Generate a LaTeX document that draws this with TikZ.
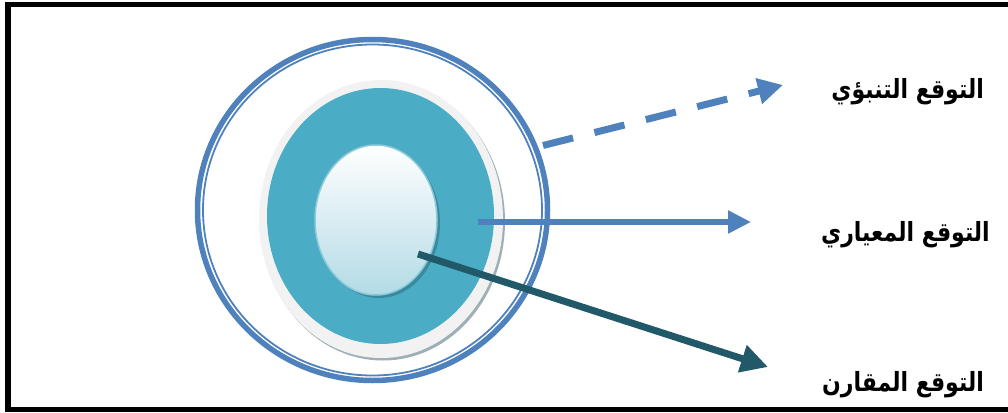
\documentclass[tikz,border=0pt]{standalone}
\usepackage{fontspec}
\newfontfamily\arabicfont[Script=Arabic]{DejaVu Sans Bold}
\TeXXeTstate=1
\usetikzlibrary{shapes.geometric,arrows.meta}
\definecolor{ringblue}{HTML}{4F81BD}
\definecolor{teal}{HTML}{4BACC6}
\definecolor{darkteal}{HTML}{215968}
\definecolor{lightgray}{HTML}{F2F2F2}
\definecolor{shadowgray}{HTML}{9DB0B5}
\definecolor{innerbot}{HTML}{B3DBE6}
\definecolor{innerrim}{HTML}{8CCAD9}
\definecolor{innershadow}{HTML}{3A8A9E}
\newcommand{\arlabel}[1]{\scalebox{1}[1.2]{\beginR #1\endR}}
\begin{document}
\begin{tikzpicture}[x=1pt,y=-1pt,
  ell/.style={ellipse,inner sep=0pt,outer sep=0pt},
  lbl/.style={font=\arabicfont\fontsize{22}{26}\selectfont,anchor=east,inner sep=0pt}]
\useasboundingbox (0,0) rectangle (1008,412);
% frame
\draw[line width=5.5pt] (1012,4.5) -- (8,4.5) -- (8,409.5) -- (1012,409.5);
% outer rings
\node[ell,draw=ringblue,line width=5.5pt,minimum width=350pt,minimum height=341pt] (outer) at (372.5,210) {};
\node[ell,draw=ringblue,line width=1.8pt,minimum width=339pt,minimum height=331pt] (outerthin) at (372.5,210) {};
% gray ring with shadow
\node[ell,fill=shadowgray,minimum width=244pt,minimum height=278pt] (grayshadow) at (383,221.5) {};
\node[ell,fill=lightgray,minimum width=244pt,minimum height=278pt] (gray) at (381,219) {};
% teal ring
\node[ell,fill=teal,minimum width=227pt,minimum height=256pt] (tealring) at (380.5,216) {};
% inner core
\node[ell,fill=innershadow,minimum width=122pt,minimum height=150pt] (coreshadow) at (379,223) {};
\node[ell,top color=white,bottom color=innerbot,draw=innerrim,line width=1.5pt,minimum width=122pt,minimum height=150pt] (core) at (376,220) {};
% labels
\node[lbl] (l1) at (984,92) {\arlabel{التوقع التنبؤي}};
\node[lbl] (l2) at (990,235) {\arlabel{التوقع المعياري}};
\node[lbl] (l3) at (984,385) {\arlabel{التوقع المقارن}};
% arrow start/end points
\coordinate (s1) at (543,145.5);
\coordinate (e1) at (783,85);
\coordinate (s2) at (478,222);
\coordinate (e2) at (751,222);
\coordinate (s3) at (418,254);
\coordinate (e3) at (768,367);
\draw[ringblue,line width=7pt,dash pattern=on 31pt off 22pt,-{Triangle[length=25pt,width=25pt]}] (s1) -- (e1);
\draw[ringblue,line width=5.5pt,-{Triangle[length=23pt,width=22pt]}] (s2) -- (e2);
\draw[darkteal,line width=7pt,-{Triangle[length=27pt,width=27pt]}] (s3) -- (e3);
\end{tikzpicture}
\end{document}
